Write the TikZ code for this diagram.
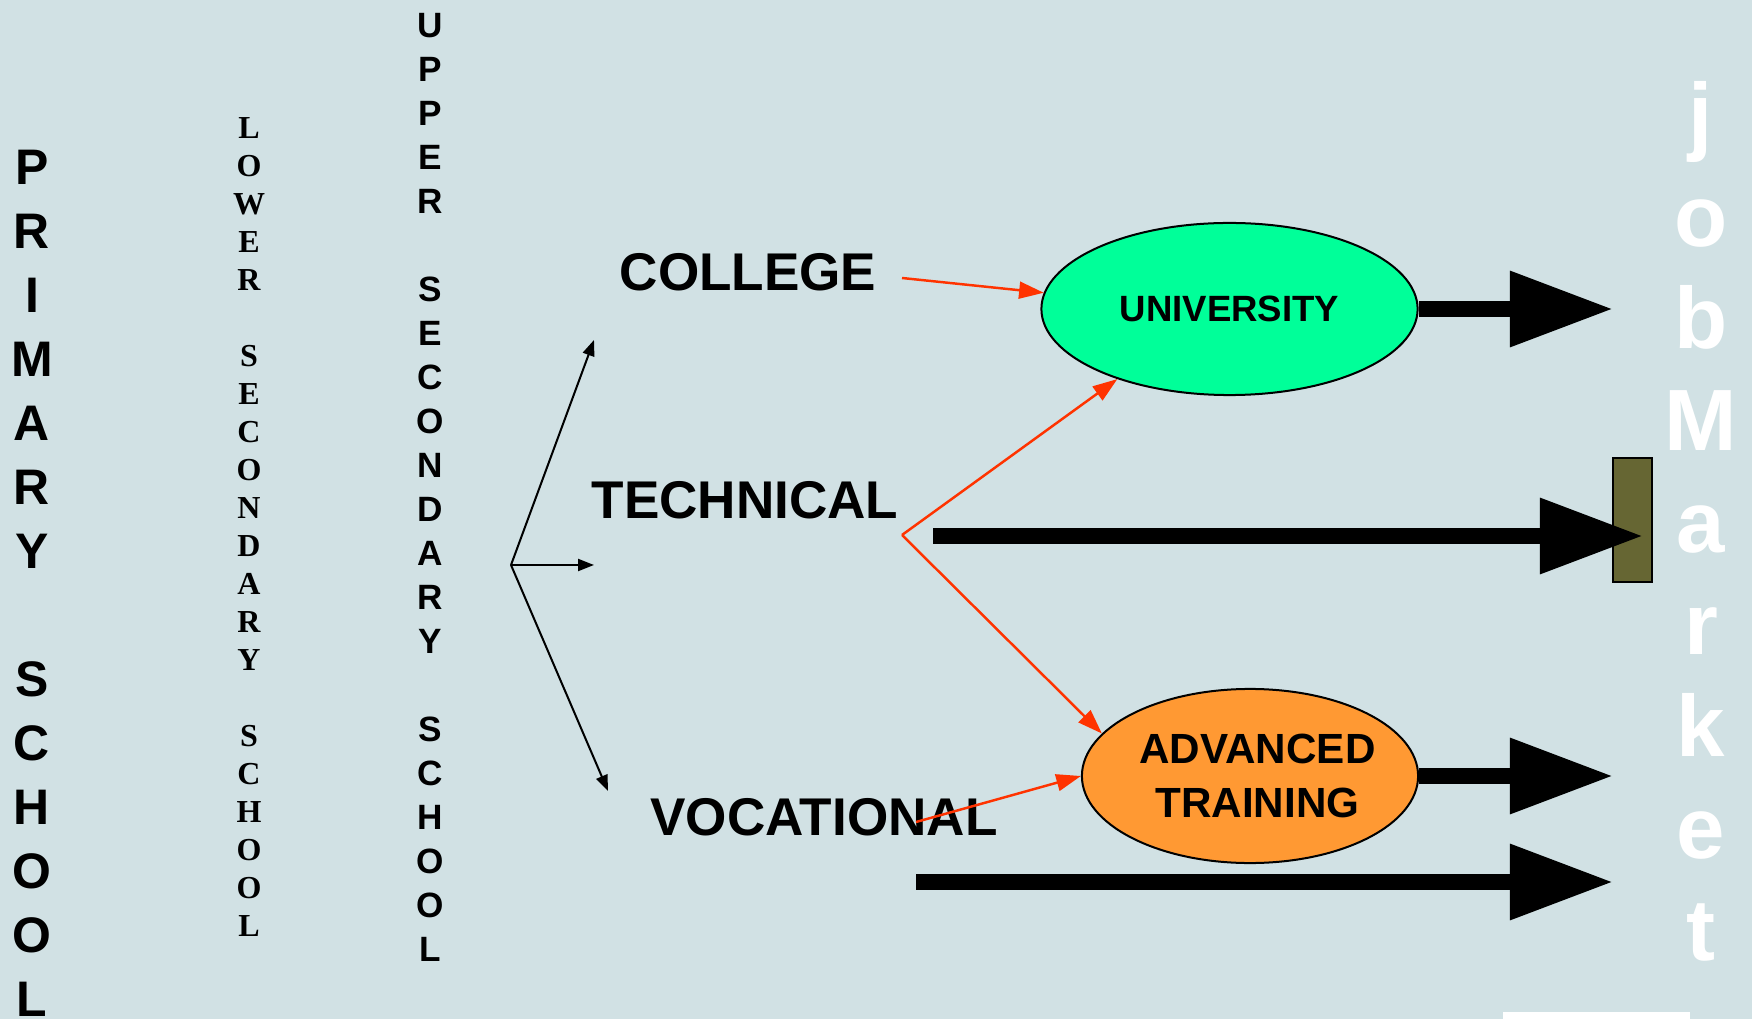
\documentclass[tikz,border=0pt]{standalone}
\usepackage{fontspec}
\setmainfont{Liberation Sans}
\newfontfamily\timesfont{Liberation Serif}
\usetikzlibrary{arrows.meta,shapes.geometric}
\definecolor{slide}{RGB}{209,225,228}
\definecolor{unigreen}{RGB}{0,255,153}
\definecolor{advorange}{RGB}{255,153,51}
\definecolor{linkred}{RGB}{255,51,0}
\definecolor{barolive}{RGB}{102,102,51}
\begin{document}
\begin{tikzpicture}[x=0.01cm,y=-0.01cm,
  vtext/.style={anchor=north,inner sep=0pt,align=center},
  stage/.style={anchor=base,inner sep=0pt,font=\bfseries\fontsize{15.1}{18}\selectfont},
  blob/.style={ellipse,draw,line width=0.57pt,inner sep=0pt},
  fork/.style={line width=0.57pt,-{Triangle[length=4.5pt,width=3.4pt]}},
  link/.style={linkred,line width=0.7pt,-{Triangle[length=7pt,width=4.8pt]}},
  job/.style={line width=0.16cm,-{Triangle[length=1.03cm,width=0.72cm]}}]
\fill [slide] (0,0) rectangle (1752,1019);
\useasboundingbox (0,0) rectangle (1752,1019);
% school columns
\node (primary) at (32,149) [vtext,font=\bfseries\fontsize{14.2}{18.2}\selectfont] {P\\R\\I\\M\\A\\R\\Y\\[18.2pt]S\\C\\H\\O\\O\\L};
\node (lower) at (249,117) [vtext,font=\timesfont\bfseries\fontsize{9.1}{10.8}\selectfont] {L\\O\\W\\E\\R\\[10.8pt]S\\E\\C\\O\\N\\D\\A\\R\\Y\\[10.8pt]S\\C\\H\\O\\O\\L};
\node (upper) at (430,13) [vtext,font=\bfseries\fontsize{10}{12.5}\selectfont] {U\\P\\P\\E\\R\\[12.5pt]S\\E\\C\\O\\N\\D\\A\\R\\Y\\[12.5pt]S\\C\\H\\O\\O\\L};
\node (market) at (1701,81) [vtext,text=white,font=\bfseries\fontsize{24.75}{29}\selectfont] {j\\o\\b\\M\\a\\r\\k\\e\\t};
% streams
\node (college) at (748,291) [stage] {COLLEGE};
\node (technical) at (745,519) [stage] {TECHNICAL};
\node (vocational) at (824,835) [stage] {VOCATIONAL};
\node (uni) at (1229.5,309) [blob,fill=unigreen,minimum width=3.76cm,minimum height=1.72cm,font=\bfseries\fontsize{10.4}{12}\selectfont] {UNIVERSITY};
\node (adv) at (1250,776) [blob,fill=advorange,minimum width=3.36cm,minimum height=1.74cm,inner xsep=-0.4cm,align=center,font=\bfseries\fontsize{12}{15.1}\selectfont] {\hspace*{0.15cm}ADVANCED\\\hspace*{0.15cm}TRAINING};
\node (bar) at (1632.5,520) [draw,line width=0.57pt,fill=barolive,minimum width=0.39cm,minimum height=1.23cm,inner sep=0pt] {};
\coordinate (split) at (511,565);
\coordinate (toCollege) at (594,340);
\coordinate (toTechnical) at (594,565);
\coordinate (toVocational) at (608,791);
\coordinate (fromCollege) at (902,278);
\coordinate (fromTechnical) at (902,535);
\coordinate (fromVocational) at (916,822);
\coordinate (techLine) at (933,536);
\coordinate (vocLine) at (916,882);
\coordinate (jobUni) at (1613,309);
\coordinate (jobTech) at (1643,536);
\coordinate (jobAdv) at (1613,776);
\coordinate (jobVoc) at (1613,882);
\draw [fork] (split) -- (toCollege);
\draw [fork] (split) -- (toTechnical);
\draw [fork] (split) -- (toVocational);
\draw [link] (fromCollege) -- (uni.175);
\draw [link] (fromTechnical) -- (uni.212);
\draw [link] (fromTechnical) -- (adv.164);
\draw [link] (fromVocational) -- (adv.west);
\draw [job] (uni.east) -- (jobUni);
\draw [job] (techLine) -- (jobTech);
\draw [job] (adv.east) -- (jobAdv);
\draw [job] (vocLine) -- (jobVoc);
\fill [white] (1503,1012) rectangle (1690,1019);
\end{tikzpicture}
\end{document}
